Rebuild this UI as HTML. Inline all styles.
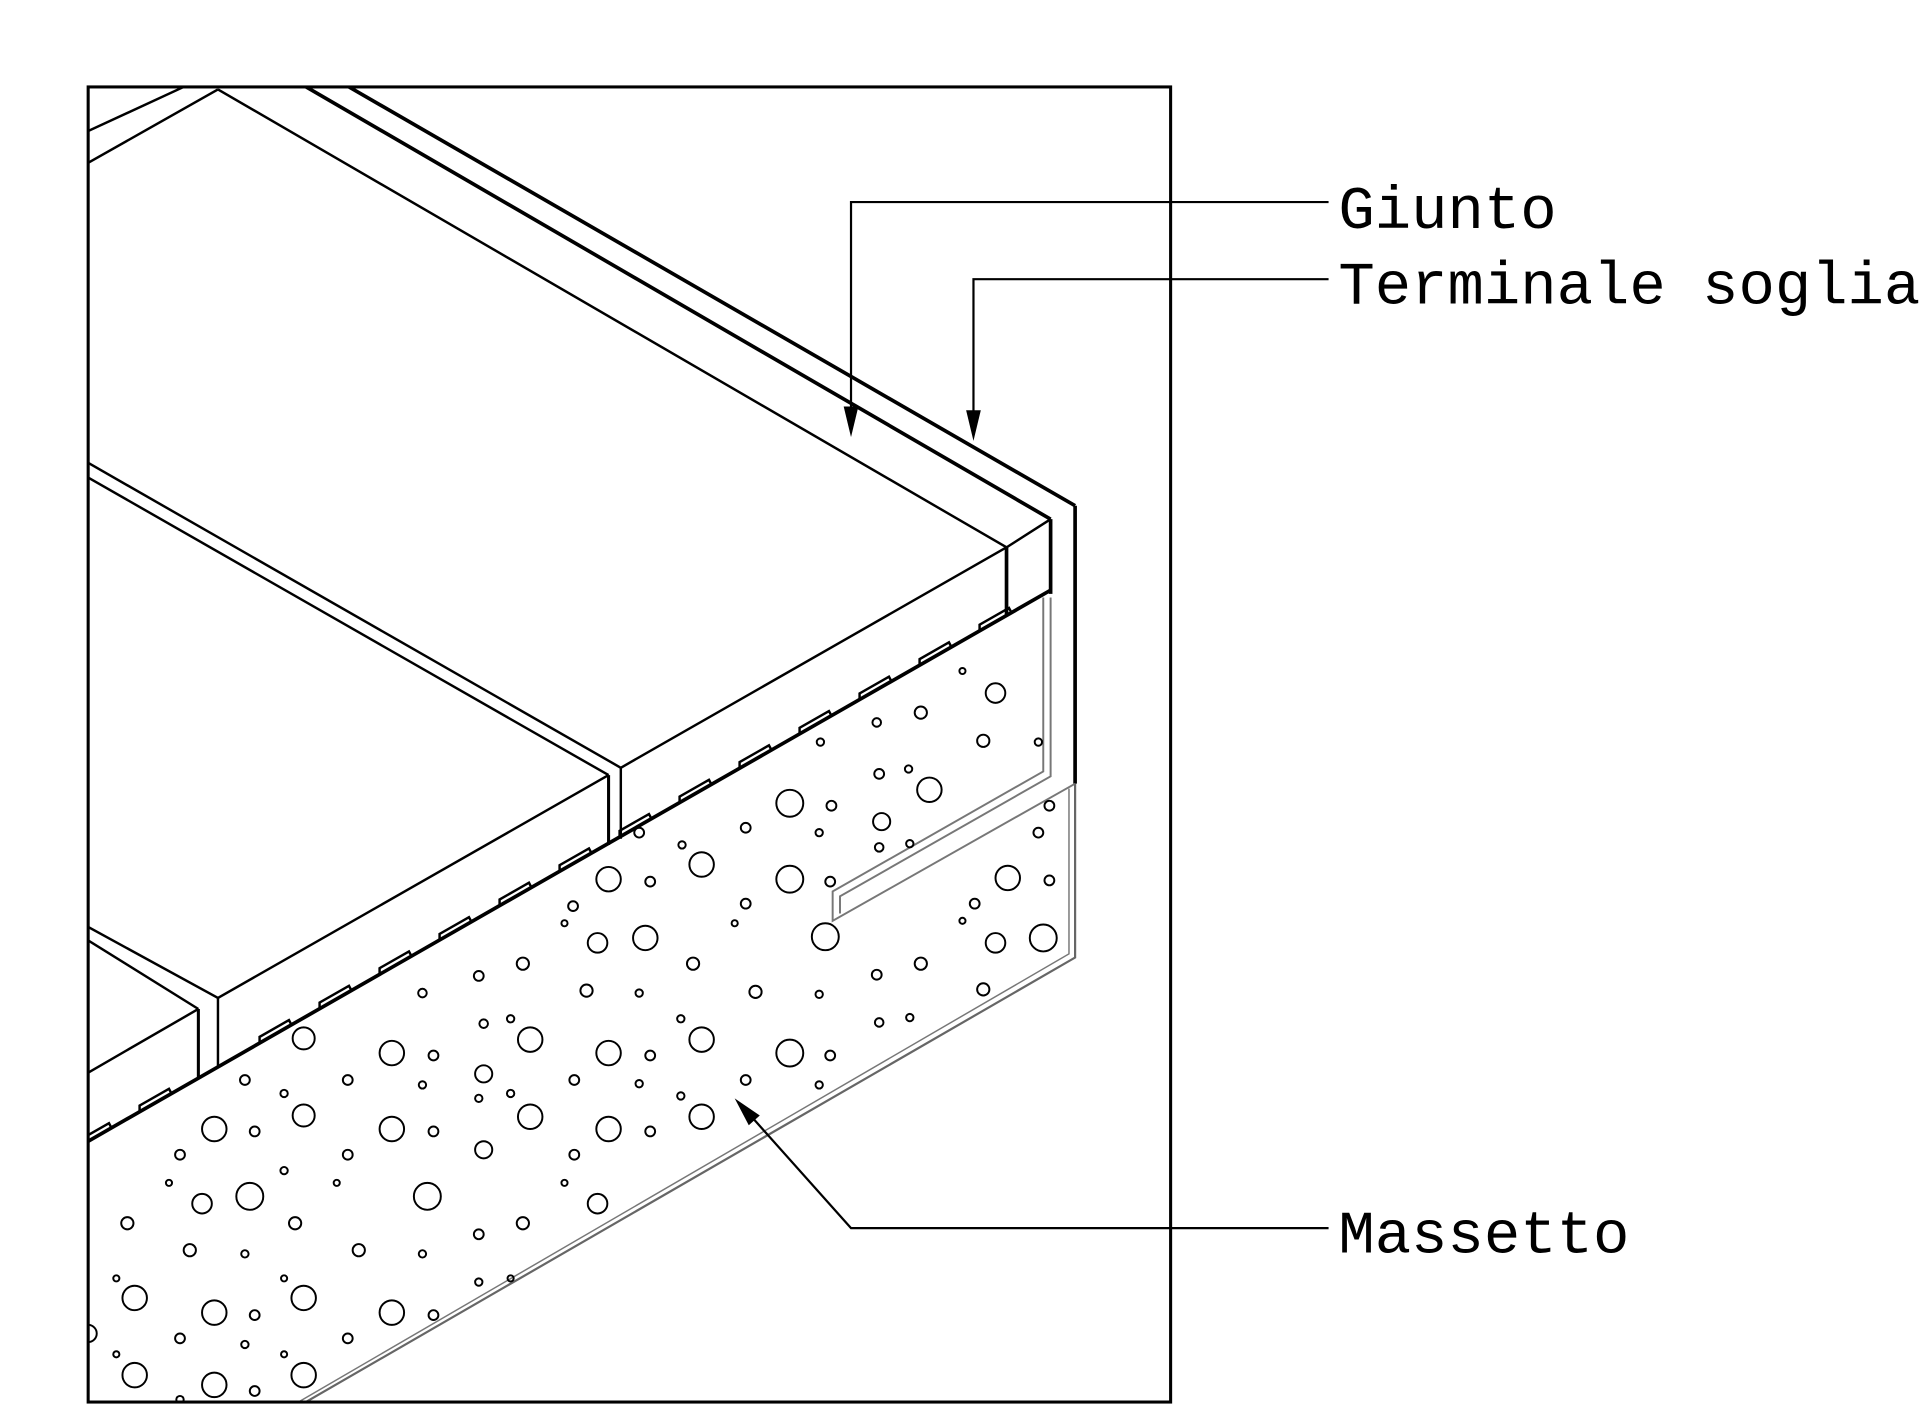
<!DOCTYPE html>
<html><head><meta charset="utf-8"><style>
html,body{margin:0;padding:0;background:#fff;}
svg{display:block;}
</style></head><body>
<svg width="1920" height="1404" viewBox="0 0 1568 1146.6" xmlns="http://www.w3.org/2000/svg">
<defs>
<clipPath id="cl"><rect x="72" y="71" width="884" height="1074"/></clipPath>
</defs>
<g clip-path="url(#cl)" fill="none" stroke="#000" stroke-width="2">
<line x1="72" y1="133" x2="178" y2="73"/>
<line x1="72" y1="107" x2="150" y2="71"/>
<line x1="240" y1="71" x2="285" y2="71"/>
<line x1="178" y1="73" x2="822" y2="447"/>
<line x1="250" y1="71" x2="858" y2="424" stroke-width="3"/>
<line x1="285" y1="71" x2="878" y2="413" stroke-width="3"/>
<line x1="822" y1="447" x2="858" y2="424"/>
<line x1="822" y1="447" x2="822" y2="502" stroke-width="3"/>
<line x1="858" y1="424" x2="858" y2="485" stroke-width="3"/>
<line x1="878" y1="413" x2="878" y2="640" stroke-width="3"/>
<line x1="72" y1="378" x2="507" y2="627"/>
<line x1="72" y1="390" x2="497" y2="633"/>
<line x1="72" y1="757" x2="178" y2="815"/>
<line x1="72" y1="768" x2="162" y2="824"/>
<line x1="822" y1="447" x2="507" y2="627"/>
<line x1="497" y1="633" x2="178" y2="815"/>
<line x1="162" y1="824" x2="72" y2="876"/>
<line x1="497" y1="633" x2="497" y2="690" stroke-width="2.5"/>
<line x1="507" y1="627" x2="507" y2="685"/>
<line x1="162" y1="824" x2="162" y2="880" stroke-width="2.5"/>
<line x1="178" y1="815" x2="178" y2="872"/>
<line x1="858" y1="482" x2="72" y2="932" stroke-width="3"/>
<g stroke-width="2">
<path d="M800,515.2 l0,-5 l24,-13.7 l2,3.8 M751,543.3 l0,-5 l24,-13.7 l2,3.8 M702,571.3 l0,-5 l24,-13.7 l2,3.8 M653,599.4 l0,-5 l24,-13.7 l2,3.8 M604,627.4 l0,-5 l24,-13.7 l2,3.8 M555,655.5 l0,-5 l24,-13.7 l2,3.8 M506,683.5 l0,-5 l24,-13.7 l2,3.8 M457,711.6 l0,-5 l24,-13.7 l2,3.8 M408,739.6 l0,-5 l24,-13.7 l2,3.8 M359,767.7 l0,-5 l24,-13.7 l2,3.8 M310,795.7 l0,-5 l24,-13.7 l2,3.8 M261,823.8 l0,-5 l24,-13.7 l2,3.8 M212,851.8 l0,-5 l24,-13.7 l2,3.8 M114,907.9 l0,-5 l24,-13.7 l2,3.8 M65,936 l0,-5 l24,-13.7 l2,3.8"/>
</g>
<path d="M852,488 L852,630 L680,728 L680,752 L878,640" stroke="#777" stroke-width="1.6"/>
<path d="M858,488 L858,634 L686,732 L686,746" stroke="#777" stroke-width="1.6"/>
<path d="M878,640 L878,782 L248,1146" stroke="#666" stroke-width="1.8"/>
<path d="M873,644 L873,779 L242,1146" stroke="#777" stroke-width="1.2"/>
<g stroke-width="1.6">
<circle cx="813" cy="566" r="8"/><circle cx="786" cy="548" r="2.5"/><circle cx="752" cy="582" r="5"/><circle cx="716" cy="590" r="3.5"/><circle cx="803" cy="605" r="5"/><circle cx="848" cy="606" r="3"/><circle cx="670" cy="606" r="3"/><circle cx="718" cy="632" r="4"/><circle cx="742" cy="628" r="3"/><circle cx="759" cy="645" r="10"/><circle cx="645" cy="656" r="11"/><circle cx="679" cy="658" r="4"/><circle cx="720" cy="671" r="7"/><circle cx="669" cy="680" r="3"/><circle cx="609" cy="676" r="4"/><circle cx="522" cy="680" r="4"/><circle cx="557" cy="690" r="3"/><circle cx="718" cy="692" r="3.5"/><circle cx="743" cy="689" r="3"/><circle cx="573" cy="706" r="10"/><circle cx="645" cy="718" r="11"/><circle cx="678" cy="720" r="4"/><circle cx="497" cy="718" r="10"/><circle cx="531" cy="720" r="4"/><circle cx="609" cy="738" r="4"/><circle cx="468" cy="740" r="4"/><circle cx="600" cy="754" r="2.5"/><circle cx="461" cy="754" r="2.5"/><circle cx="674" cy="765" r="11"/><circle cx="527" cy="766" r="10"/><circle cx="488" cy="770" r="8"/><circle cx="566" cy="787" r="5"/><circle cx="427" cy="787" r="5"/><circle cx="391" cy="797" r="4"/><circle cx="617" cy="810" r="5"/><circle cx="669" cy="812" r="3"/><circle cx="479" cy="809" r="5"/><circle cx="522" cy="811" r="3"/><circle cx="345" cy="811" r="3.5"/><circle cx="857" cy="658" r="4"/><circle cx="848" cy="680" r="4"/><circle cx="823" cy="717" r="10"/><circle cx="857" cy="719" r="4"/><circle cx="796" cy="738" r="4"/><circle cx="786" cy="752" r="2.5"/><circle cx="813" cy="770" r="8"/><circle cx="852" cy="766" r="11"/><circle cx="716" cy="796" r="4"/><circle cx="752" cy="787" r="5"/><circle cx="803" cy="808" r="5"/><circle cx="718" cy="835" r="3.5"/><circle cx="743" cy="831" r="3"/><circle cx="556" cy="832" r="3"/><circle cx="417" cy="832" r="3"/><circle cx="395" cy="836" r="3.5"/><circle cx="433" cy="849" r="10"/><circle cx="573" cy="849" r="10"/><circle cx="645" cy="860" r="11"/><circle cx="678" cy="862" r="4"/><circle cx="497" cy="860" r="10"/><circle cx="531" cy="862" r="4"/><circle cx="248" cy="848" r="9"/><circle cx="320" cy="860" r="10"/><circle cx="354" cy="862" r="4"/><circle cx="395" cy="877" r="7"/><circle cx="469" cy="882" r="4"/><circle cx="522" cy="885" r="3"/><circle cx="609" cy="882" r="4"/><circle cx="669" cy="886" r="3"/><circle cx="284" cy="882" r="4"/><circle cx="345" cy="886" r="3"/><circle cx="200" cy="882" r="4"/><circle cx="391" cy="897" r="3"/><circle cx="417" cy="893" r="3"/><circle cx="556" cy="895" r="3"/><circle cx="232" cy="893" r="3"/><circle cx="248" cy="911" r="9"/><circle cx="433" cy="912" r="10"/><circle cx="573" cy="912" r="10"/><circle cx="497" cy="922" r="10"/><circle cx="531" cy="924" r="4"/><circle cx="175" cy="922" r="10"/><circle cx="320" cy="922" r="10"/><circle cx="354" cy="924" r="4"/><circle cx="208" cy="924" r="4"/><circle cx="395" cy="939" r="7"/><circle cx="147" cy="943" r="4"/><circle cx="284" cy="943" r="4"/><circle cx="469" cy="943" r="4"/><circle cx="232" cy="956" r="3"/><circle cx="461" cy="966" r="2.5"/><circle cx="138" cy="966" r="2.5"/><circle cx="275" cy="966" r="2.5"/><circle cx="204" cy="977" r="11"/><circle cx="349" cy="977" r="11"/><circle cx="165" cy="983" r="8"/><circle cx="488" cy="983" r="8"/><circle cx="104" cy="999" r="5"/><circle cx="241" cy="999" r="5"/><circle cx="391" cy="1008" r="4"/><circle cx="427" cy="999" r="5"/><circle cx="155" cy="1021" r="5"/><circle cx="293" cy="1021" r="5"/><circle cx="200" cy="1024" r="3"/><circle cx="345" cy="1024" r="3"/><circle cx="95" cy="1044" r="2.5"/><circle cx="232" cy="1044" r="2.5"/><circle cx="391" cy="1047" r="3"/><circle cx="417" cy="1044" r="2.5"/><circle cx="110" cy="1060" r="10"/><circle cx="248" cy="1060" r="10"/><circle cx="175" cy="1072" r="10"/><circle cx="320" cy="1072" r="10"/><circle cx="208" cy="1074" r="4"/><circle cx="354" cy="1074" r="4"/><circle cx="72" cy="1089" r="7"/><circle cx="147" cy="1093" r="4"/><circle cx="284" cy="1093" r="4"/><circle cx="200" cy="1098" r="3"/><circle cx="95" cy="1106" r="2.5"/><circle cx="232" cy="1106" r="2.5"/><circle cx="110" cy="1123" r="10"/><circle cx="248" cy="1123" r="10"/><circle cx="175" cy="1131" r="10"/><circle cx="208" cy="1136" r="4"/><circle cx="147" cy="1143" r="3"/>
</g>
</g>
<rect x="72" y="71" width="884" height="1074" fill="none" stroke="#000" stroke-width="2.5"/>
<g fill="none" stroke="#000" stroke-width="1.8">
<polyline points="1085,165 695,165 695,340"/>
<polyline points="1085,228 795,228 795,343"/>
<polyline points="1085,1003 695,1003 612,910"/>
</g>
<g fill="#000" stroke="none">
<polygon points="689,332 701,332 695,357"/>
<polygon points="789,335 801,335 795,360"/>
<polygon points="600,897 620.5,911 611.5,919"/>
</g>
<g font-family="'Liberation Mono', monospace" font-size="49.5" fill="#000">
<text x="1093" y="186">Giunto</text>
<text x="1093" y="248">Terminale soglia</text>
<text x="1093" y="1023">Massetto</text>
</g>
</svg>
</body></html>
